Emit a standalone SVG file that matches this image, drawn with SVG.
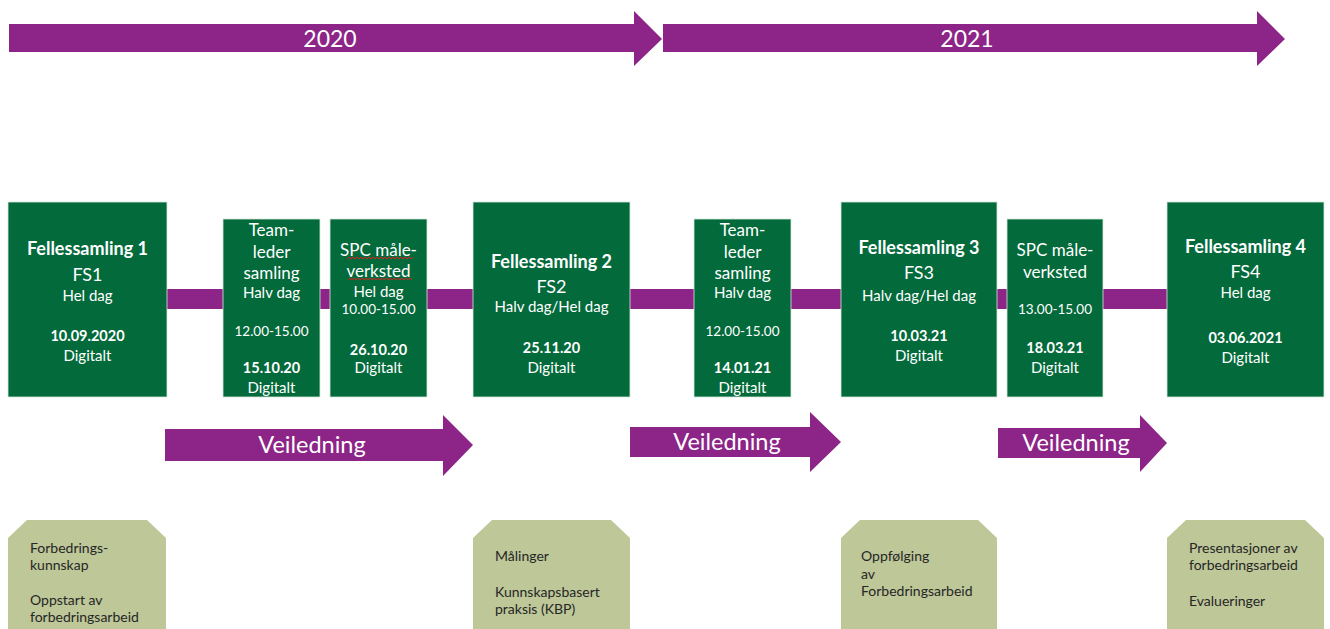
<svg xmlns="http://www.w3.org/2000/svg" width="1330" height="629" viewBox="0 0 1330 629">
<style>
  .arrow { fill: #8c2587; }
  .green { fill: #036a3b; stroke: #d8e8dc; stroke-width: 0.8; }
  .olive { fill: #bdc798; }
  text { font-family: Lato, "Liberation Sans", sans-serif; }
  .w { fill: #ffffff; text-anchor: middle; }
  .b { font-weight: bold; }
  .t18 { font-size: 18px; }
  .t17 { font-size: 17px; }
  .t15 { font-size: 15px; }
  .t14 { font-size: 14.5px; }
  .t13 { font-size: 13.5px; }
  .yr { fill: #ffffff; font-size: 23px; text-anchor: middle; }
  .vl { fill: #ffffff; font-size: 23.5px; text-anchor: middle; }
  .d { fill: #262626; font-size: 14px; }
  .squig { fill: none; stroke: #e02020; stroke-width: 1; }
</style>

<g id="year-2020">
  <path class="arrow" d="M9,24 H634 V11 L662,39 L634,66 V52 H9 Z"/>
  <text class="yr" x="330" y="47">2020</text>
</g>
<g id="year-2021">
  <path class="arrow" d="M663,24 H1257 V11 L1285,39 L1257,66 V52 H663 Z"/>
  <text class="yr" x="967" y="47">2021</text>
</g>

<g id="connectors">
  <rect class="arrow" x="166" y="289" width="1002" height="20"/>
</g>

<g id="fs1">
  <rect class="green" x="8" y="202" width="159" height="195"/>
  <text class="w b t18" x="87.5" y="255">Fellessamling 1</text>
  <text class="w t18" x="87.5" y="281">FS1</text>
  <text class="w t15" x="87.5" y="301">Hel dag</text>
  <text class="w b t14" x="87.5" y="341">10.09.2020</text>
  <text class="w t15" x="87.5" y="361">Digitalt</text>
</g>

<g id="teamleder1">
  <rect class="green" x="223" y="219" width="97" height="178"/>
  <text class="w t17" x="271.5" y="236">Team-</text>
  <text class="w t17" x="271.5" y="258">leder</text>
  <text class="w t17" x="271.5" y="279">samling</text>
  <text class="w t15" x="271.5" y="298">Halv dag</text>
  <text class="w t13" x="271.5" y="336">12.00-15.00</text>
  <text class="w b t14" x="271.5" y="373">15.10.20</text>
  <text class="w t15" x="271.5" y="393">Digitalt</text>
</g>

<g id="spc1">
  <rect class="green" x="330" y="219" width="97" height="178"/>
  <text class="w t17" x="378.5" y="256">SPC måle-</text>
  <text class="w t17" x="378.5" y="277">verksted</text>
  <path class="squig" d="M347,259 l2,-2 l2,2 l2,-2 l2,2 l2,-2 l2,2 l2,-2 l2,2 l2,-2 l2,2 l2,-2 l2,2 l2,-2 l2,2 l2,-2 l2,2 l2,-2 l2,2 l2,-2 l2,2 l2,-2 l2,2 l2,-2 l2,2 l2,-2 l2,2 l2,-2 l2,2 l2,-2 l2,2 l2,-2 l2,2 l2,-2"/>
  <path class="squig" d="M348,280 l2,-2 l2,2 l2,-2 l2,2 l2,-2 l2,2 l2,-2 l2,2 l2,-2 l2,2 l2,-2 l2,2 l2,-2 l2,2 l2,-2 l2,2 l2,-2 l2,2 l2,-2 l2,2 l2,-2 l2,2 l2,-2 l2,2 l2,-2 l2,2 l2,-2 l2,2 l2,-2 l2,2 l2,-2 l2,2"/>
  <text class="w t15" x="378.5" y="297">Hel dag</text>
  <text class="w t13" x="378.5" y="314">10.00-15.00</text>
  <text class="w b t14" x="378.5" y="355">26.10.20</text>
  <text class="w t15" x="378.5" y="373">Digitalt</text>
</g>

<g id="fs2">
  <rect class="green" x="473" y="202" width="157" height="195"/>
  <text class="w b t18" x="551.5" y="268">Fellessamling 2</text>
  <text class="w t18" x="551.5" y="293">FS2</text>
  <text class="w t15" x="551.5" y="312">Halv dag/Hel dag</text>
  <text class="w b t14" x="551.5" y="353">25.11.20</text>
  <text class="w t15" x="551.5" y="373">Digitalt</text>
</g>

<g id="teamleder2">
  <rect class="green" x="694" y="219" width="97" height="178"/>
  <text class="w t17" x="742.5" y="236">Team-</text>
  <text class="w t17" x="742.5" y="258">leder</text>
  <text class="w t17" x="742.5" y="279">samling</text>
  <text class="w t15" x="742.5" y="298">Halv dag</text>
  <text class="w t13" x="742.5" y="336">12.00-15.00</text>
  <text class="w b t14" x="742.5" y="373">14.01.21</text>
  <text class="w t15" x="742.5" y="393">Digitalt</text>
</g>

<g id="fs3">
  <rect class="green" x="841" y="202" width="156" height="195"/>
  <text class="w b t18" x="919" y="254">Fellessamling 3</text>
  <text class="w t18" x="919" y="279">FS3</text>
  <text class="w t15" x="919" y="301">Halv dag/Hel dag</text>
  <text class="w b t14" x="919" y="341">10.03.21</text>
  <text class="w t15" x="919" y="361">Digitalt</text>
</g>

<g id="spc2">
  <rect class="green" x="1007" y="219" width="96" height="178"/>
  <text class="w t17" x="1055" y="256">SPC måle-</text>
  <text class="w t17" x="1055" y="278">verksted</text>
  <text class="w t13" x="1055" y="314">13.00-15.00</text>
  <text class="w b t14" x="1055" y="353">18.03.21</text>
  <text class="w t15" x="1055" y="373">Digitalt</text>
</g>

<g id="fs4">
  <rect class="green" x="1167" y="202" width="157" height="195"/>
  <text class="w b t18" x="1245.5" y="253">Fellessamling 4</text>
  <text class="w t18" x="1245.5" y="278">FS4</text>
  <text class="w t15" x="1245.5" y="298">Hel dag</text>
  <text class="w b t14" x="1245.5" y="343">03.06.2021</text>
  <text class="w t15" x="1245.5" y="363">Digitalt</text>
</g>

<g id="veiledning1">
  <path class="arrow" d="M165,429 H443 V415 L473,445 L443,476 V461 H165 Z"/>
  <text class="vl" x="312" y="453">Veiledning</text>
</g>
<g id="veiledning2">
  <path class="arrow" d="M630,427 H810 V412 L841,442 L810,472 V457 H630 Z"/>
  <text class="vl" x="727" y="450">Veiledning</text>
</g>
<g id="veiledning3">
  <path class="arrow" d="M998,428 H1140 V415 L1167,443 L1140,472 V458 H998 Z"/>
  <text class="vl" x="1076" y="451">Veiledning</text>
</g>

<g id="tema1">
  <path class="olive" d="M8,538 L27,520 H147 L166,538 V640 H8 Z"/>
  <text class="d" x="30" y="553">Forbedrings-</text>
  <text class="d" x="30" y="570">kunnskap</text>
  <text class="d" x="30" y="605">Oppstart av</text>
  <text class="d" x="30" y="622">forbedringsarbeid</text>
</g>
<g id="tema2">
  <path class="olive" d="M473,538 L492,520 H611 L630,538 V640 H473 Z"/>
  <text class="d" x="495" y="561">Målinger</text>
  <text class="d" x="495" y="597">Kunnskapsbasert</text>
  <text class="d" x="495" y="614">praksis (KBP)</text>
</g>
<g id="tema3">
  <path class="olive" d="M841,538 L860,520 H978 L997,538 V640 H841 Z"/>
  <text class="d" x="861" y="561">Oppfølging</text>
  <text class="d" x="861" y="579">av</text>
  <text class="d" x="861" y="596">Forbedringsarbeid</text>
</g>
<g id="tema4">
  <path class="olive" d="M1167,538 L1186,520 H1305 L1324,538 V640 H1167 Z"/>
  <text class="d" x="1189" y="553">Presentasjoner av</text>
  <text class="d" x="1189" y="570">forbedringsarbeid</text>
  <text class="d" x="1189" y="606">Evalueringer</text>
</g>
</svg>
